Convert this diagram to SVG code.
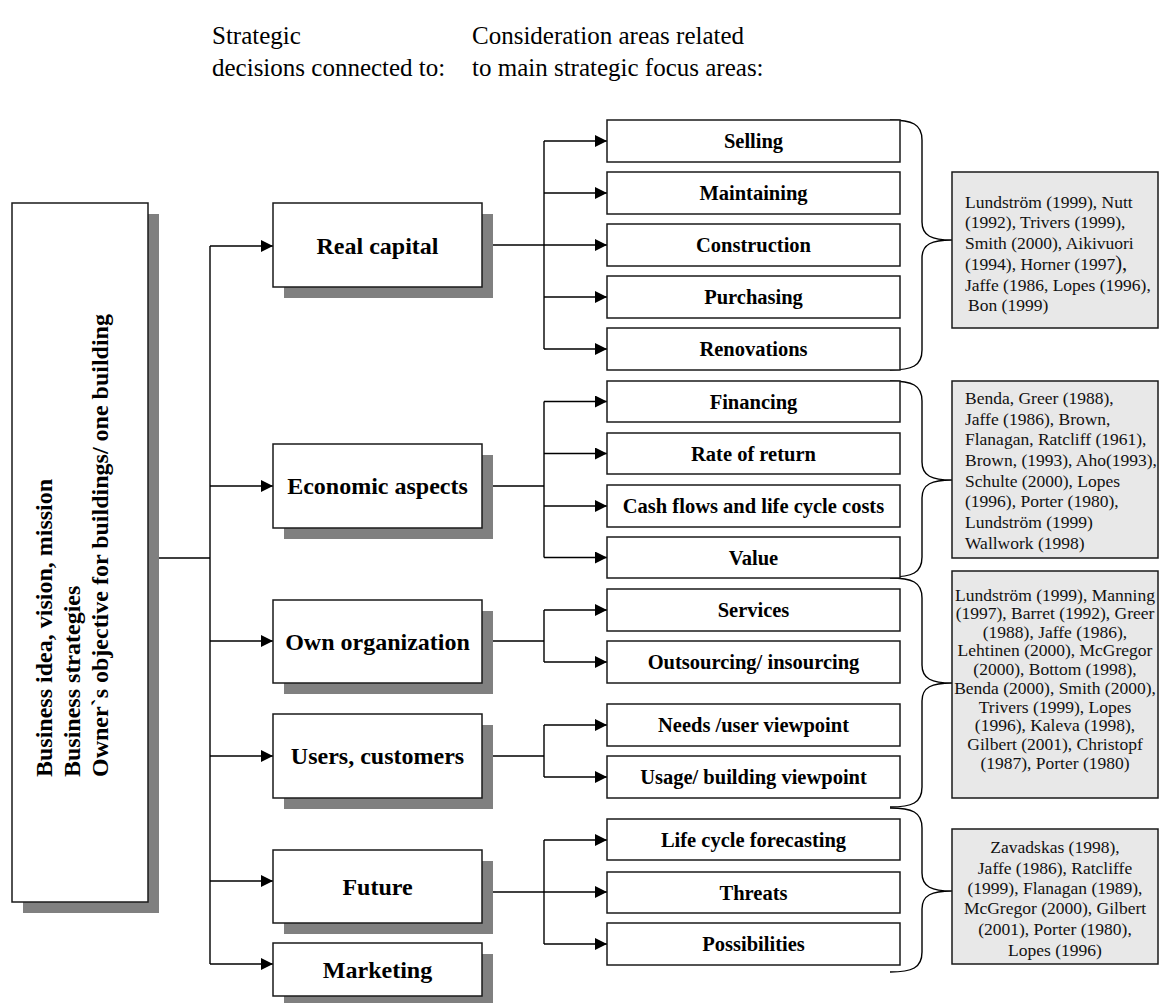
<svg xmlns="http://www.w3.org/2000/svg" width="1160" height="1003" viewBox="0 0 1160 1003">
<defs>
<marker id="arr" markerWidth="12" markerHeight="12" refX="12" refY="6" orient="auto" markerUnits="userSpaceOnUse">
<path d="M0,0 L12,6 L0,12 Z" fill="#000"/>
</marker>
<style>
.hdr{font-family:"Liberation Serif","Times New Roman",serif;font-size:25px;fill:#000}
.box{fill:#fff;stroke:#1a1a1a;stroke-width:1.5}
.sh{fill:#808080}
.mid{font-family:"Liberation Serif","Times New Roman",serif;font-size:24px;font-weight:bold;text-anchor:middle;fill:#000}
.sub{font-family:"Liberation Serif","Times New Roman",serif;font-size:20.5px;font-weight:bold;text-anchor:middle;fill:#000}
.left{font-family:"Liberation Serif","Times New Roman",serif;font-size:24px;font-weight:bold;fill:#000}
.ref{fill:#e8e8e8;stroke:#1a1a1a;stroke-width:1.5}
.rt{font-family:"Liberation Serif","Times New Roman",serif;font-size:17.5px;fill:#111}
.rc{font-family:"Liberation Serif","Times New Roman",serif;font-size:17.5px;fill:#111;text-anchor:middle}
.ln{fill:none;stroke:#000;stroke-width:1.4}
.a{fill:none;stroke:#000;stroke-width:1.4;marker-end:url(#arr)}
.br{fill:none;stroke:#000;stroke-width:1.4}
</style>
</defs>
<rect width="1160" height="1003" fill="#fff"/>

<g id="headers">
<text class="hdr" x="212" y="44">Strategic</text>
<text class="hdr" x="212" y="76">decisions connected to:</text>
<text class="hdr" x="472" y="44">Consideration areas related</text>
<text class="hdr" x="472" y="76">to main strategic focus areas:</text>
</g>

<g id="connectors">
<path class="ln" d="M148,558 H210 M210,246 V964"/>
<path class="a" d="M210,246 H273"/>
<path class="a" d="M210,486 H273"/>
<path class="a" d="M210,641 H273"/>
<path class="a" d="M210,756 H273"/>
<path class="a" d="M210,881 H273"/>
<path class="a" d="M210,964 H273"/>
<path class="ln" d="M544,141 V349"/>
<path class="a" d="M544,141 H607"/>
<path class="a" d="M544,193 H607"/>
<path class="a" d="M482,245 H607"/>
<path class="a" d="M544,297 H607"/>
<path class="a" d="M544,349 H607"/>
<path class="ln" d="M482,486 H544 M544,401.5 V557.5"/>
<path class="a" d="M544,401.5 H607"/>
<path class="a" d="M544,453.5 H607"/>
<path class="a" d="M544,506 H607"/>
<path class="a" d="M544,557.5 H607"/>
<path class="ln" d="M482,641 H544 M544,610 V662"/>
<path class="a" d="M544,610 H607"/>
<path class="a" d="M544,662 H607"/>
<path class="ln" d="M482,756 H544 M544,725 V777"/>
<path class="a" d="M544,725 H607"/>
<path class="a" d="M544,777 H607"/>
<path class="ln" d="M544,840 V944"/>
<path class="a" d="M544,840 H607"/>
<path class="a" d="M482,892 H607"/>
<path class="a" d="M544,944 H607"/>
<path class="br" d="M890,120 C912,120 922,124 922,140 L922,222 C922,236 932,240 952,240 C932,240 922,244 922,258 L922,350 C922,366 912,370 890,370"/>
<path class="br" d="M890,381 C912,381 922,385 922,401 L922,462 C922,476 932,480 952,480 C932,480 922,484 922,498 L922,557 C922,573 912,577 890,577"/>
<path class="br" d="M890,578 C912,578 922,582 922,598 L922,665 C922,679 932,683 952,683 C932,683 922,687 922,701 L922,787 C922,803 912,807 890,807"/>
<path class="br" d="M890,808 C912,808 922,812 922,828 L922,873 C922,887 932,891 952,891 C932,891 922,895 922,909 L922,952 C922,968 912,972 890,972"/>
</g>

<g id="node-left">
<rect class="sh" x="23" y="214" width="136" height="699"/>
<rect class="box" x="12" y="203" width="136" height="699"/>
<text class="left" transform="rotate(-90 52 777)" x="52" y="777">Business idea, vision, mission<tspan x="52" dy="28">Business strategies</tspan><tspan x="52" dy="28">Owner`s objective for buildings/ one building</tspan></text>
</g>

<g id="node-real-capital">
<rect class="sh" x="284" y="214" width="209" height="84"/>
<rect class="box" x="273" y="203" width="209" height="84"/>
<text class="mid" x="377.5" y="254">Real capital</text>
</g>
<g id="node-economic">
<rect class="sh" x="284" y="455" width="209" height="84"/>
<rect class="box" x="273" y="444" width="209" height="84"/>
<text class="mid" x="377.5" y="494">Economic aspects</text>
</g>
<g id="node-own-org">
<rect class="sh" x="284" y="611" width="209" height="83"/>
<rect class="box" x="273" y="600" width="209" height="83"/>
<text class="mid" x="377.5" y="650">Own organization</text>
</g>
<g id="node-users">
<rect class="sh" x="284" y="725" width="209" height="84"/>
<rect class="box" x="273" y="714" width="209" height="84"/>
<text class="mid" x="377.5" y="764">Users, customers</text>
</g>
<g id="node-future">
<rect class="sh" x="284" y="861" width="209" height="73"/>
<rect class="box" x="273" y="850" width="209" height="73"/>
<text class="mid" x="377.5" y="895">Future</text>
</g>
<g id="node-marketing">
<rect class="sh" x="284" y="954" width="209" height="53"/>
<rect class="box" x="273" y="943" width="209" height="53"/>
<text class="mid" x="377.5" y="978">Marketing</text>
</g>

<g id="node-selling"><rect class="box" x="607" y="120" width="293" height="42"/><text class="sub" x="753.5" y="148">Selling</text></g>
<g id="node-maintaining"><rect class="box" x="607" y="172" width="293" height="42"/><text class="sub" x="753.5" y="200">Maintaining</text></g>
<g id="node-construction"><rect class="box" x="607" y="224" width="293" height="42"/><text class="sub" x="753.5" y="252">Construction</text></g>
<g id="node-purchasing"><rect class="box" x="607" y="276" width="293" height="42"/><text class="sub" x="753.5" y="304">Purchasing</text></g>
<g id="node-renovations"><rect class="box" x="607" y="328" width="293" height="42"/><text class="sub" x="753.5" y="356">Renovations</text></g>
<g id="node-financing"><rect class="box" x="607" y="381" width="293" height="41"/><text class="sub" x="753.5" y="409">Financing</text></g>
<g id="node-rate"><rect class="box" x="607" y="433" width="293" height="41"/><text class="sub" x="753.5" y="461">Rate of return</text></g>
<g id="node-cash"><rect class="box" x="607" y="485" width="293" height="42"/><text class="sub" x="753.5" y="513">Cash flows and life cycle costs</text></g>
<g id="node-value"><rect class="box" x="607" y="537" width="293" height="41"/><text class="sub" x="753.5" y="565">Value</text></g>
<g id="node-services"><rect class="box" x="607" y="589" width="293" height="42"/><text class="sub" x="753.5" y="617">Services</text></g>
<g id="node-outsourcing"><rect class="box" x="607" y="641" width="293" height="42"/><text class="sub" x="753.5" y="669">Outsourcing/ insourcing</text></g>
<g id="node-needs"><rect class="box" x="607" y="704" width="293" height="42"/><text class="sub" x="753.5" y="732">Needs /user viewpoint</text></g>
<g id="node-usage"><rect class="box" x="607" y="756" width="293" height="42"/><text class="sub" x="753.5" y="784">Usage/ building viewpoint</text></g>
<g id="node-lifecycle"><rect class="box" x="607" y="819" width="293" height="41"/><text class="sub" x="753.5" y="847">Life cycle forecasting</text></g>
<g id="node-threats"><rect class="box" x="607" y="872" width="293" height="41"/><text class="sub" x="753.5" y="900">Threats</text></g>
<g id="node-possibilities"><rect class="box" x="607" y="923" width="293" height="42"/><text class="sub" x="753.5" y="951">Possibilities</text></g>

<g id="ref-1">
<rect class="ref" x="952" y="172" width="206" height="156"/>
<text class="rt" x="965" y="208">Lundström (1999), Nutt</text>
<text class="rt" x="965" y="228">(1992), Trivers (1999),</text>
<text class="rt" x="965" y="249">Smith (2000), Aikivuori</text>
<text class="rt" x="965" y="270">(1994), Horner (1997<tspan font-size="20.5">),</tspan></text>
<text class="rt" x="965" y="291">Jaffe (1986, Lopes (1996),</text>
<text class="rt" x="968" y="311">Bon (1999)</text>
</g>
<g id="ref-2">
<rect class="ref" x="952" y="381" width="206" height="177"/>
<text class="rt" x="965" y="404">Benda, Greer (1988),</text>
<text class="rt" x="965" y="425">Jaffe (1986), Brown,</text>
<text class="rt" x="965" y="445">Flanagan, Ratcliff (1961),</text>
<text class="rt" x="965" y="466">Brown, (1993), Aho(1993),</text>
<text class="rt" x="965" y="487">Schulte (2000), Lopes</text>
<text class="rt" x="965" y="507">(1996), Porter (1980),</text>
<text class="rt" x="965" y="528">Lundström (1999)</text>
<text class="rt" x="965" y="549">Wallwork (1998)</text>
</g>
<g id="ref-3">
<rect class="ref" x="952" y="571" width="206" height="227"/>
<text class="rc" x="1055" y="601">Lundström (1999), Manning</text>
<text class="rc" x="1055" y="619">(1997), Barret (1992), Greer</text>
<text class="rc" x="1055" y="638">(1988), Jaffe (1986),</text>
<text class="rc" x="1055" y="656">Lehtinen (2000), McGregor</text>
<text class="rc" x="1055" y="675">(2000), Bottom (1998),</text>
<text class="rc" x="1055" y="694">Benda (2000), Smith (2000),</text>
<text class="rc" x="1055" y="713">Trivers (1999), Lopes</text>
<text class="rc" x="1055" y="731">(1996), Kaleva (1998),</text>
<text class="rc" x="1055" y="750">Gilbert (2001), Christopf</text>
<text class="rc" x="1055" y="769">(1987), Porter (1980)</text>
</g>
<g id="ref-4">
<rect class="ref" x="952" y="829" width="206" height="135"/>
<text class="rc" x="1055" y="853">Zavadskas (1998),</text>
<text class="rc" x="1055" y="874">Jaffe (1986), Ratcliffe</text>
<text class="rc" x="1055" y="894">(1999), Flanagan (1989),</text>
<text class="rc" x="1055" y="914">McGregor (2000), Gilbert</text>
<text class="rc" x="1055" y="935">(2001), Porter (1980),</text>
<text class="rc" x="1055" y="956">Lopes (1996)</text>
</g>
</svg>
